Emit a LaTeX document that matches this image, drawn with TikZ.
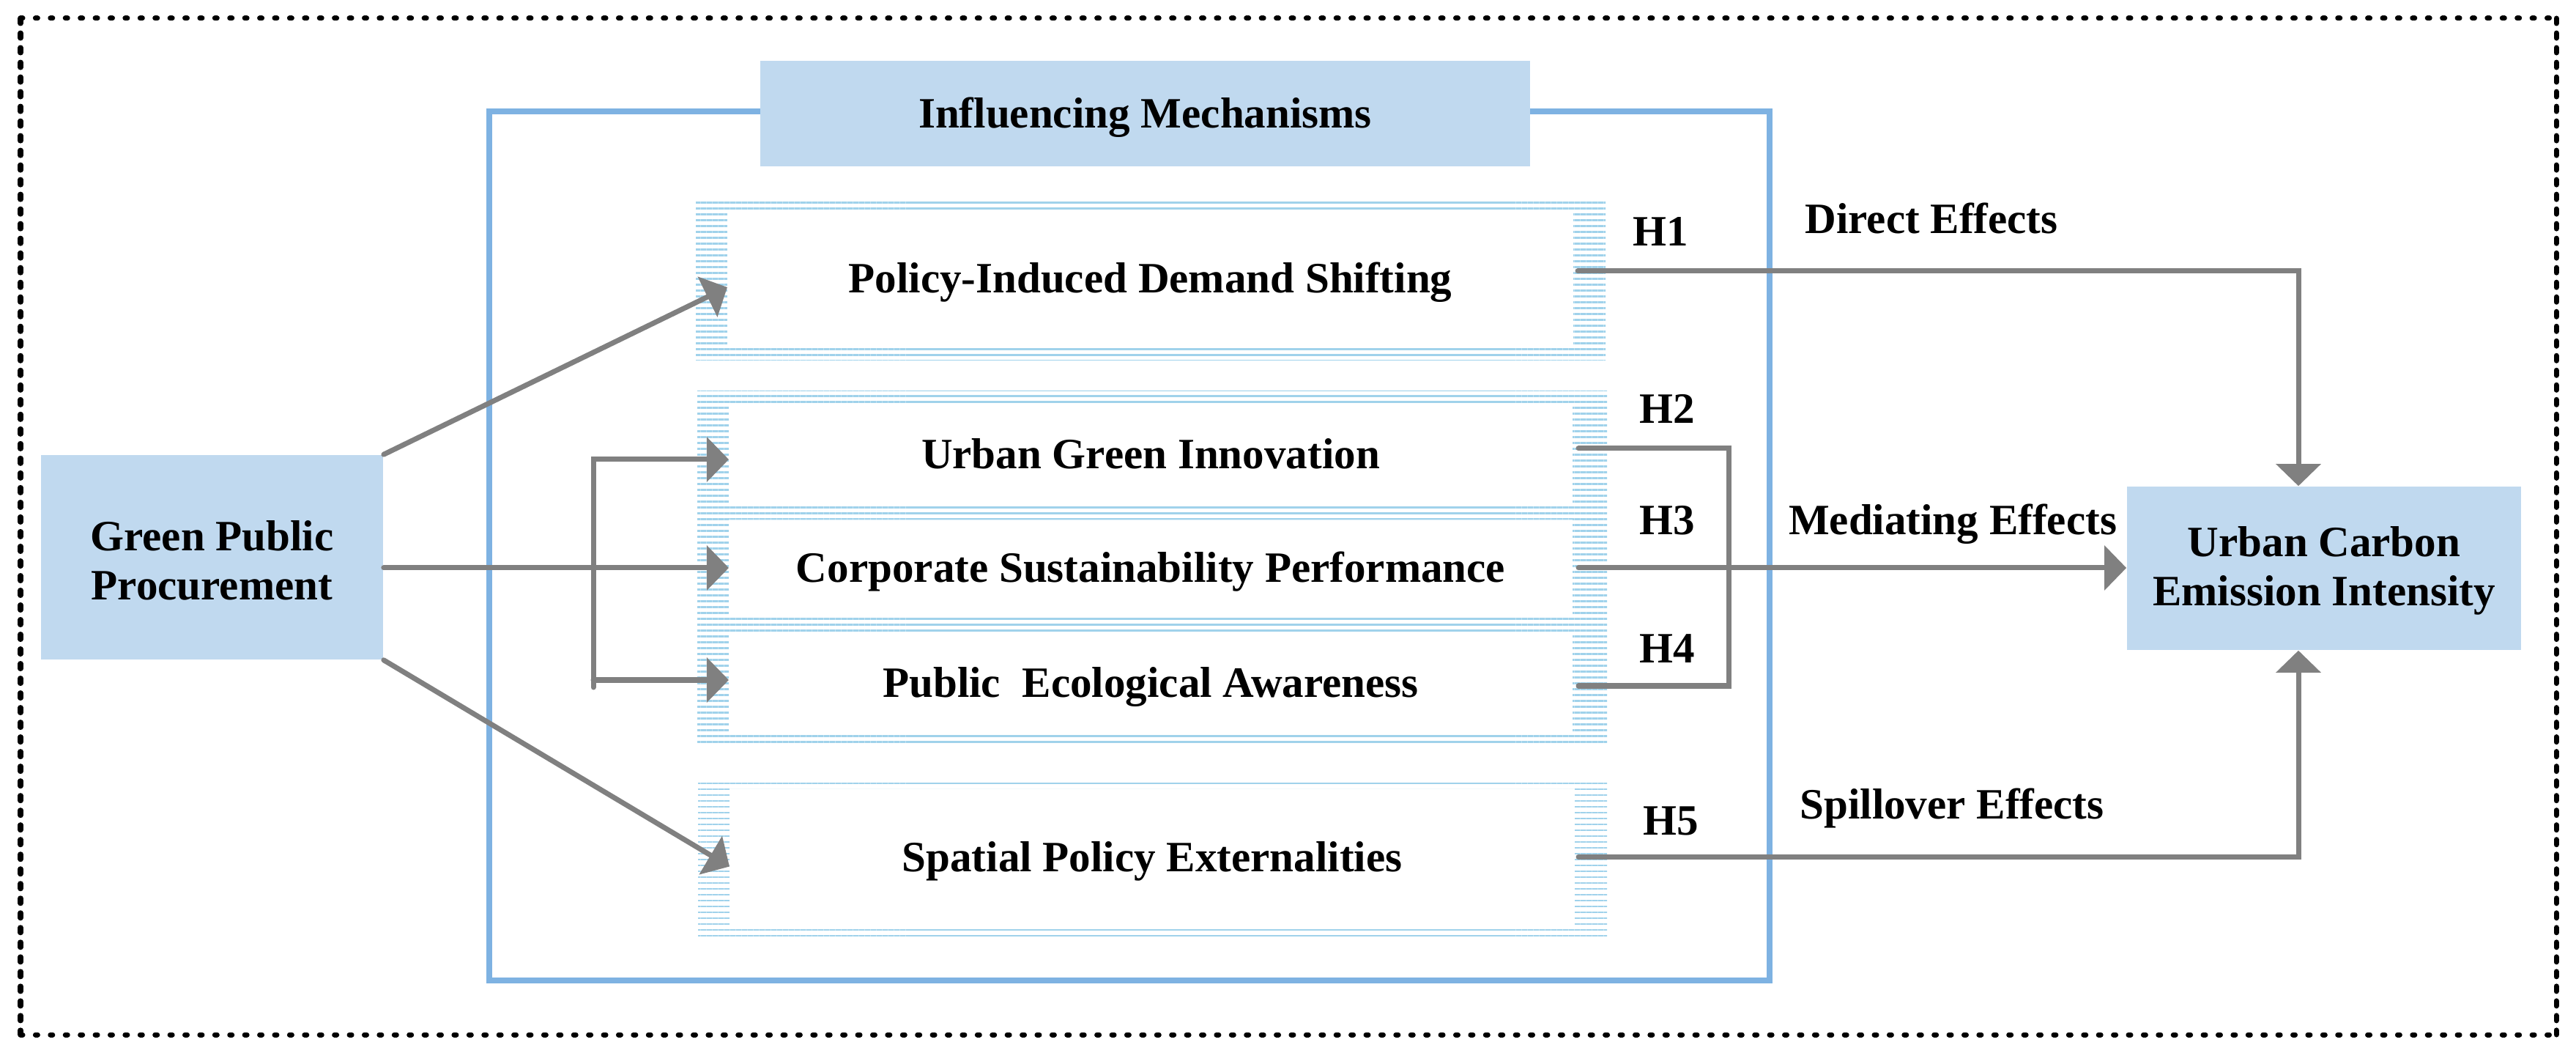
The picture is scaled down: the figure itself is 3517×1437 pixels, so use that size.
\documentclass[tikz,border=0pt]{standalone}
\usepackage{fontspec}
\setmainfont{Liberation Serif}
\usetikzlibrary{arrows.meta,patterns.meta,calc}
\definecolor{boxfill}{RGB}{192,217,239}
\definecolor{frameblue}{RGB}{126,178,226}
\definecolor{hatchblue}{RGB}{160,210,235}
\definecolor{conngray}{RGB}{128,128,128}
\begin{document}
\begin{tikzpicture}[x=0.01cm,y=-0.01cm,
  txt/.style={font=\bfseries\fontsize{16.8}{19}\selectfont},
  mech/.style={txt, inner sep=0pt, text height=11.1pt, text depth=0pt},
  endbox/.style={fill=boxfill, inner sep=0pt},
  gline/.style={draw=conngray, line width=0.07cm, line cap=round},
  conn/.style={gline, -{Triangle[length=0.3cm,width=0.6cm]}},
  hatchband/.style={pattern={Lines[angle=0,distance=0.08cm,line width=0.025cm]}, pattern color=hatchblue, even odd rule},
  lbl/.style={txt, anchor=base, inner sep=0pt}]
\useasboundingbox (0,0) rectangle (3517,1437);

% outer frame
\draw[line width=0.07cm, line cap=round, dash pattern=on 0.03cm off 0.174cm] (28,25) -- (3490,25);
\draw[line width=0.07cm, line cap=round, dash pattern=on 0.03cm off 0.174cm] (28,1412) -- (3490,1412);
\draw[line width=0.07cm, line cap=round, dash pattern=on 0.07cm off 0.13cm] (28,25) -- (28,1412);
\draw[line width=0.07cm, line cap=round, dash pattern=on 0.07cm off 0.13cm] (3490,25) -- (3490,1412);

% mechanisms frame
\draw[frameblue, line width=0.08cm] (668,152) rectangle (2416,1338);
\node[endbox, mech, minimum width=10.51cm, minimum height=1.44cm] (hdr) at (1563.5,155) {Influencing Mechanisms};

% end boxes
\node[endbox, minimum width=4.67cm, minimum height=2.79cm] (gpp) at (289.5,760.5) {};
\node[txt, align=center] (gpptext) at (289.5,765) {Green Public\\Procurement};
\node[endbox, minimum width=5.38cm, minimum height=2.23cm] (uc) at (3173,775.5) {};
\node[txt, align=center] (uctext) at (3173,779) {Urban Carbon\\Emission Intensity};

% mechanism boxes
\node[mech, minimum width=11.53cm, minimum height=1.86cm] (pol) at (1570.5,380) {Policy-Induced Demand Shifting};
\node[mech, minimum width=11.50cm, minimum height=1.34cm] (ugi) at (1571,620) {Urban Green Innovation};
\node[mech, minimum width=11.50cm, minimum height=1.30cm] (csp) at (1571,775) {Corporate Sustainability Performance};
\node[mech, minimum width=11.50cm, minimum height=1.33cm] (pea) at (1571,931.5) {Public\ \ Ecological Awareness};
\node[mech, minimum width=11.52cm, minimum height=1.85cm] (spa) at (1573,1169.5) {Spatial Policy Externalities};

\fill[hatchband] (950,275) rectangle (2192,492) (pol.north west) rectangle (pol.south east);
\fill[hatchband] (952,533) rectangle (2194,1017) (ugi.north west) rectangle (ugi.south east)
   (csp.north west) rectangle (csp.south east) (pea.north west) rectangle (pea.south east);
\fill[hatchband] (953,1063) rectangle (2194,1282) (spa.north west) rectangle (spa.south east);

% labels
\node[lbl] (h1) at (2267,336) {H1};
\node[lbl] (h2) at (2276,578) {H2};
\node[lbl] (h3) at (2276,730) {H3};
\node[lbl] (h4) at (2276,905) {H4};
\node[lbl] (h5) at (2281,1139) {H5};
\node[lbl] (direct) at (2637,319) {Direct Effects};
\node[lbl] (mediating) at (2666,730) {Mediating Effects};
\node[lbl] (spill) at (2665,1117) {Spillover Effects};

% helper coordinates
\coordinate (bt) at (810,627);
\coordinate (bb) at (810,928);
\coordinate (bend) at (810,938);
\coordinate (cx) at (3138,0);
\coordinate (br1) at (2360,612);
\coordinate (br2) at (2360,936);

% left connectors
\draw[conn] (gpp.north east) -- ($(pol.west)+(0,12)$);
\draw[conn] (gpp.east |- csp.west) -- (csp.west);
\draw[conn] (bend) -- (bt) -- (bt -| ugi.west);
\draw[conn] (bb) -- (bb -| pea.west);
\draw[conn] (gpp.south east) -- ($(spa.west)+(0,13)$);

% right connectors
\draw[conn] ($(pol.east)+(6,-10)$) -| (cx |- uc.north);
\draw[gline] ($(ugi.east)+(8,-8)$) -- (br1) -- (br2) -- ($(pea.east)+(8,4.5)$);
\draw[conn] ($(csp.east)+(8,0)$) -- (csp.east -| uc.west);
\draw[conn] ($(spa.east)+(5,0)$) -| (cx |- uc.south);
\end{tikzpicture}
\end{document}
